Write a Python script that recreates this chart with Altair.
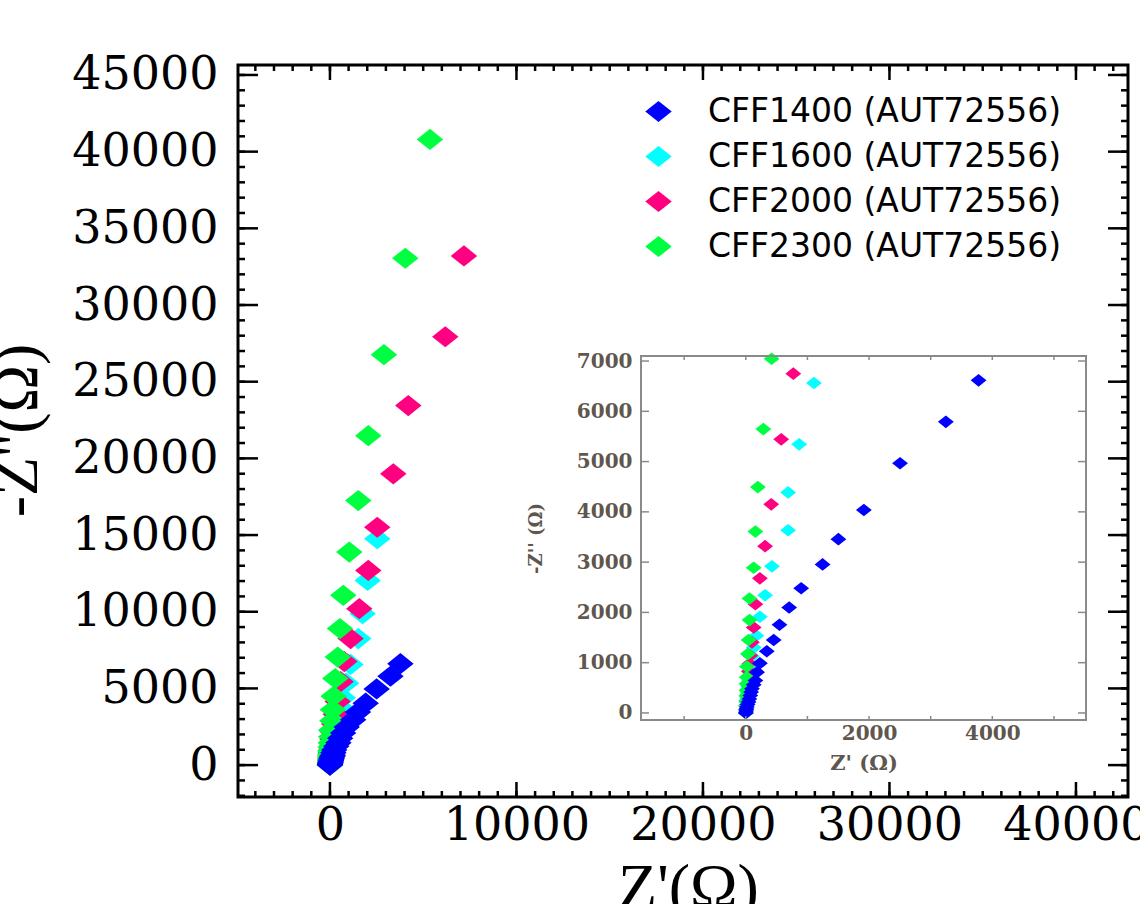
import altair as alt
import pandas as pd

# ---------------- data ----------------
SERIES = ["CFF1400 (AUT72556)", "CFF1600 (AUT72556)", "CFF2000 (AUT72556)", "CFF2300 (AUT72556)"]
COLORS = ["#0000ff", "#00ffff", "#ff0080", "#00ff40"]

cff1400_zr = [0, 5, 10, 17, 30, 45, 58, 73, 87, 100, 128, 156, 184, 229, 341, 453, 547, 704, 899, 1246, 1503, 1916, 2503, 3246, 3777]
cff1400_zi = [0, 40, 80, 119, 170, 218, 280, 349, 415, 481, 560, 646, 811, 989, 1227, 1451, 1755, 2098, 2480, 2955, 3457, 4037, 4967, 5791, 6616]

cff1600_zr = [0, 5, 10, 15, 22, 30, 40, 52, 65, 80, 100, 130, 173, 229, 313, 425, 687, 687, 866, 1106, 1519, 1753, 2021, 2537]
cff1600_zi = [0, 60, 130, 210, 300, 400, 520, 650, 800, 960, 1130, 1300, 1537, 1913, 2342, 2916, 3635, 4387, 5343, 6563, 8247, 9874, 12044, 14760]

cff2000_zr = [0, 4, 8, 12, 17, 23, 30, 40, 50, 60, 73, 100, 128, 156, 229, 313, 413, 575, 771, 1108, 1573, 2056, 2537, 3396, 4200, 6184, 7185]
cff2000_zi = [0, 70, 150, 240, 340, 450, 570, 700, 830, 980, 1141, 1405, 1702, 2164, 2678, 3318, 4149, 5442, 6748, 8247, 10200, 12695, 15510, 18990, 23440, 27930, 33200]

cff2300_zr = [0, 2, 4, 6, 8, 10, 12, 14, 17, 34, 45, 61, 61, 128, 156, 196, 285, 419, 536, 715, 1037, 1519, 2056, 2895, 4040, 5362]
cff2300_zi = [0, 70, 150, 240, 340, 450, 580, 712, 923, 1174, 1451, 1847, 2276, 2889, 3608, 4492, 5646, 7045, 8900, 11070, 13890, 17250, 21480, 26760, 33050, 40800]

# axis ticks
X_MAJOR = [0, 10000, 20000, 30000, 40000]
X_MINOR = list(range(-4000, 42001, 1000))
Y_MAJOR = list(range(0, 45001, 5000))
Y_MINOR = list(range(-2000, 45001, 1000))
IX_LABELS = [0, 2000, 4000]
IX_TICKS = list(range(-1000, 5001, 1000))
IY_TICKS = list(range(0, 7001, 1000))

# ---------------- table ----------------
series_data = [
    (SERIES[1], cff1600_zr, cff1600_zi),
    (SERIES[2], cff2000_zr, cff2000_zi),
    (SERIES[3], cff2300_zr, cff2300_zi),
    (SERIES[0], cff1400_zr, cff1400_zi),
]
rows = []
k = 0
for name, xr, yi in series_data:
    for a, b in zip(xr, yi):
        rows.append({"s": name, "zr": a, "zi": b, "o": k})
        k += 1
df = pd.DataFrame(rows)

# ---------------- geometry ----------------
W, H = 890, 732
DIAMOND = "M-1,0L0,-0.8L1,0L0,0.8Z"
X_DOM = [-4930, 42790]
Y_DOM = [-2080, 45650]
IX_DOM = [-1700, 5520]
IY_DOM = [-140, 7100]
IL, IR, IT, IB = 403, 848, 291, 655

SERIF = "DejaVu Serif"
TSERIF = "Liberation Serif"
GREY = "#5f564e"


def xs():
    return alt.Scale(domain=X_DOM, range=[0, W], nice=False, zero=False)


def ys():
    return alt.Scale(domain=Y_DOM, range=[H, 0], nice=False, zero=False)


def ixs():
    return alt.Scale(domain=IX_DOM, range=[IL, IR], nice=False, zero=False)


def iys():
    return alt.Scale(domain=IY_DOM, range=[IB, IT], nice=False, zero=False)


cscale = alt.Scale(domain=SERIES, range=COLORS)

# ---------------- main plot ----------------
main_pts = alt.Chart(df).mark_point(
    shape=DIAMOND, filled=True, opacity=1, size=700, strokeWidth=0
).encode(
    x=alt.X("zr:Q", scale=xs(), axis=alt.Axis(
        orient="bottom", values=X_MAJOR, format="d", ticks=False, domain=False, grid=False,
        labelFont=SERIF, labelFontSize=46, labelColor="black", labelPadding=6,
        labelFlush=False, labelOverlap=False,
        title="Z'(Ω)", titleFont=TSERIF, titleFontSize=64, titleFontWeight="normal",
        titleColor="black", titleX=450, titleY=110, titleBaseline="alphabetic",
        titleAlign="center")),
    y=alt.Y("zi:Q", scale=ys(), axis=alt.Axis(
        orient="left", values=Y_MAJOR, format="d", ticks=False, domain=False, grid=False,
        labelFont=SERIF, labelFontSize=46, labelColor="black", labelPadding=20,
        labelFlush=False, labelOverlap=False,
        title="-Z''(Ω)", titleFont=TSERIF, titleFontSize=64, titleFontWeight="normal",
        titleColor="black", titleX=-202, titleY=365, titleAngle=270,
        titleBaseline="alphabetic", titleAlign="center")),
    color=alt.Color("s:N", scale=cscale, legend=alt.Legend(
        orient="none", legendX=404, legendY=30, title=None,
        labelFont="DejaVu Sans", labelFontSize=33, labelColor="black", labelLimit=800,
        symbolType=DIAMOND, symbolSize=700, symbolStrokeWidth=0, symbolOpacity=1,
        labelOffset=33, rowPadding=11, padding=0)),
    order=alt.Order("o:Q"),
)


def yticks(vals, scale, x0, x1, color, sw):
    return alt.Chart(pd.DataFrame({"v": vals})).mark_rule(color=color, strokeWidth=sw).encode(
        y=alt.Y("v:Q", scale=scale, axis=None), x=alt.value(x0), x2=alt.value(x1))


def xticks(vals, scale, y0, y1, color, sw):
    return alt.Chart(pd.DataFrame({"v": vals})).mark_rule(color=color, strokeWidth=sw).encode(
        x=alt.X("v:Q", scale=scale, axis=None), y=alt.value(y0), y2=alt.value(y1))


main_layers = [
    main_pts,
    yticks(Y_MINOR, ys(), 0, 7, "black", 2.5),
    yticks(Y_MAJOR, ys(), 0, 20, "black", 2.5),
    yticks(Y_MINOR, ys(), W, W - 7, "black", 2.5),
    yticks(Y_MAJOR, ys(), W, W - 20, "black", 2.5),
    xticks(X_MINOR, xs(), H, H - 6, "black", 2.5),
    xticks(X_MAJOR, xs(), H, H - 15, "black", 2.5),
    xticks(X_MINOR, xs(), 0, 6, "black", 2.5),
    xticks(X_MAJOR, xs(), 0, 15, "black", 2.5),
]

# ---------------- inset ----------------
box = alt.Chart(pd.DataFrame({"a": [0]}))
inset_bg = box.mark_rect(fill="white", strokeWidth=0).encode(
    x=alt.value(IL), x2=alt.value(IR), y=alt.value(IT), y2=alt.value(IB))
inset_frame = box.mark_rect(fill=None, stroke="#8a8a8a", strokeWidth=2).encode(
    x=alt.value(IL), x2=alt.value(IR), y=alt.value(IT), y2=alt.value(IB))

inset_pts = alt.Chart(df).transform_filter(
    (alt.datum.zi <= IY_DOM[1]) & (alt.datum.zr <= IX_DOM[1])
).mark_point(shape=DIAMOND, filled=True, opacity=1, size=250, strokeWidth=0).encode(
    x=alt.X("zr:Q", scale=ixs(), axis=alt.Axis(
        orient="bottom", offset=-(H - IB), values=IX_LABELS, format="d",
        ticks=False, domain=False, grid=False,
        labelFont=SERIF, labelFontSize=20, labelFontWeight="bold", labelColor=GREY,
        labelPadding=3, labelFlush=False, labelOverlap=False,
        title="Z' (Ω)", titleFont=SERIF, titleFontSize=21, titleFontWeight="bold",
        titleColor=GREY, titleX=(IL + IR) / 2, titleY=49, titleBaseline="alphabetic",
        titleAlign="center")),
    y=alt.Y("zi:Q", scale=iys(), axis=alt.Axis(
        orient="left", offset=-IL, values=IY_TICKS, format="d",
        ticks=False, domain=False, grid=False,
        labelFont=SERIF, labelFontSize=20, labelFontWeight="bold", labelColor=GREY,
        labelPadding=9, labelFlush=False, labelOverlap=False,
        title="-Z'' (Ω)", titleFont=SERIF, titleFontSize=18, titleFontWeight="bold",
        titleColor=GREY, titleX=-100, titleY=(IT + IB) / 2, titleAngle=270,
        titleBaseline="alphabetic", titleAlign="center")),
    color=alt.Color("s:N", scale=cscale, legend=None),
    order=alt.Order("o:Q"),
)

inset_layers = [
    inset_bg,
    inset_pts,
    yticks(IY_TICKS, iys(), IL, IL + 8, "#8a8a8a", 1.5),
    yticks(IY_TICKS, iys(), IR, IR - 8, "#8a8a8a", 1.5),
    xticks(IX_TICKS, ixs(), IB, IB - 4, "#8a8a8a", 1.5),
    xticks(IX_TICKS, ixs(), IT, IT + 4, "#8a8a8a", 1.5),
    inset_frame,
]

chart = alt.layer(*(main_layers + inset_layers)).resolve_scale(
    x="independent", y="independent", color="independent"
).properties(
    width=W, height=H,
    autosize=alt.AutoSizeParams(type="none"),
    padding={"left": 238, "top": 65, "right": 12, "bottom": 107},
    background="white",
).configure_view(stroke="black", strokeWidth=3)

chart.save("out.html", embed_options={"renderer": "svg", "actions": False})
